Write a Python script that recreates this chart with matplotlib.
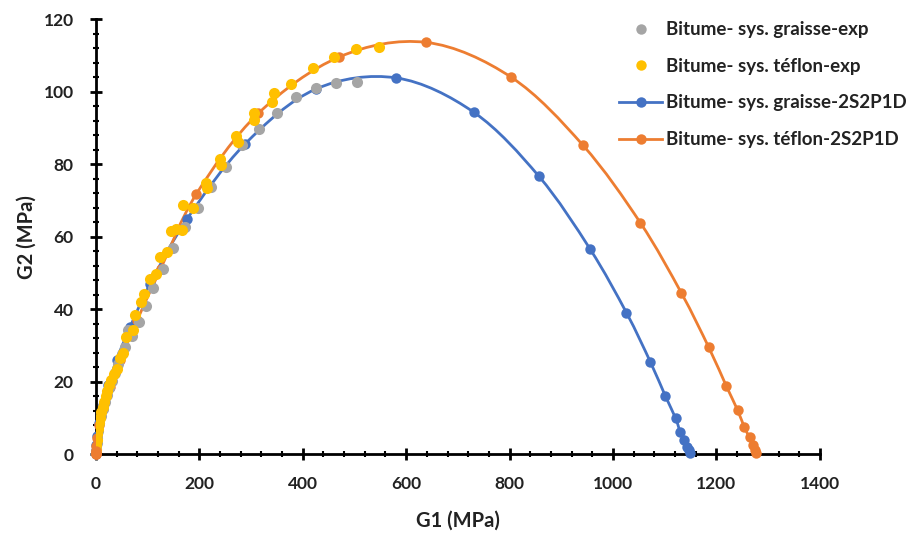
import numpy as np
import matplotlib
matplotlib.use("Agg")
import matplotlib.pyplot as plt
from matplotlib.path import Path
from matplotlib.patches import PathPatch
from matplotlib.lines import Line2D
from matplotlib.ticker import MultipleLocator

plt.rcParams["font.family"] = ["Lato", "DejaVu Sans"]

graisse_exp_g1 = [1, 2, 3, 5, 7, 10, 13, 17, 21, 26, 31, 37, 43, 50, 57, 62, 70, 84,
                  97, 110, 129, 150, 172, 198, 223, 252, 282, 316, 350, 387, 425, 464, 505]
graisse_exp_g2 = [1.5, 3, 4.5, 6.5, 8.5, 10.5, 12.5, 14.5, 16.3, 18.3, 20.2, 22.5, 25, 27.5, 29.5, 34.2, 32.5, 36.5,
                  41, 45.7, 51, 56.9, 62.7, 67.8, 73.6, 79.3, 85.2, 89.8, 94.2, 98.4, 101, 102.5, 102.7]

teflon_exp_g1 = [0.5, 1, 2, 3, 4, 6, 8, 10, 13, 16, 19, 22, 26, 30, 35, 41, 47, 52, 59, 71, 75, 88, 93,
                 105, 117, 124, 137, 145, 154, 166, 168, 187, 212, 214, 240, 242, 271, 275, 305, 305,
                 340, 344, 377, 419, 461, 503, 548]
teflon_exp_g2 = [1, 2.5, 4, 5.5, 7, 8.5, 10, 11.5, 13, 14.5, 16, 17.5, 19, 20.5, 22, 23.4, 26.5, 27.8, 32.2, 34.2, 38.3, 42, 44.3,
                 48.2, 49.8, 54.4, 55.8, 61.6, 62, 61.8, 68.8, 67.8, 74.8, 73.5, 81.4, 79.9, 87.7, 86.2, 94, 92.1,
                 97.2, 99.7, 102.2, 106.4, 109.6, 111.9, 112.2]

# 2S2P1D model points
graisse_mod_g1 = [0, 0.3, 1.0, 2.5, 6, 13, 24, 40, 66, 105, 176, 288, 425, 581, 731, 857, 956,
                  1026, 1072, 1101, 1121, 1130, 1138, 1143, 1146, 1148]
graisse_mod_g2 = [0, 1.0, 2.5, 5, 8.5, 13.5, 19, 26, 35, 47, 64.8, 85.5, 100.7, 103.8, 94.3, 76.6, 56.5,
                  39, 25.5, 16.1, 9.9, 6.1, 3.9, 2.0, 1.0, 0.2]

teflon_mod_g1 = [0, 0.1, 0.4, 1.2, 3, 7, 14, 27, 47, 80, 125, 194, 314, 471, 639, 803, 942,
                 1053, 1132, 1185, 1219, 1241, 1254, 1264, 1270, 1274, 1277]
teflon_mod_g2 = [0, 0.2, 0.9, 2.2, 4.5, 8, 12.5, 18.5, 26, 37, 51, 71.7, 94, 109.6, 113.6, 104, 85.2,
                 63.8, 44.5, 29.5, 18.8, 12.1, 7.4, 4.6, 2.5, 1.2, 0.2]

labels = ["Bitume- sys. graisse-exp", "Bitume- sys. téflon-exp",
          "Bitume- sys. graisse-2S2P1D", "Bitume- sys. téflon-2S2P1D"]

GREY, YELLOW, BLUE, ORANGE = "#A5A5A5", "#FFC000", "#4472C4", "#ED7D31"


def smooth_path(xs, ys):
    # Excel-like smoothed line: cubic Bezier through the points (Catmull-Rom handles)
    p = np.column_stack([xs, ys]).astype(float)
    verts = [p[0]]
    codes = [Path.MOVETO]
    n = len(p)
    for i in range(n - 1):
        p0 = p[i - 1] if i > 0 else p[i]
        p3 = p[i + 2] if i + 2 < n else p[i + 1]
        c1 = p[i] + (p[i + 1] - p0) / 6
        c2 = p[i + 1] - (p3 - p[i]) / 6
        verts += [c1, c2, p[i + 1]]
        codes += [Path.CURVE4] * 3
    return Path(verts, codes)


fig = plt.figure(figsize=(9.13, 5.33), dpi=100)
ax = fig.add_axes([0.105, 0.148, 0.793, 0.816])

ms = 7.5
for xs, ys, c in [(graisse_mod_g1, graisse_mod_g2, BLUE), (teflon_mod_g1, teflon_mod_g2, ORANGE)]:
    ax.add_patch(PathPatch(smooth_path(xs, ys), fill=False, edgecolor=c, lw=2, zorder=2))
    ax.plot(xs, ys, "o", color=c, ms=ms, mec="none", zorder=3, clip_on=False)

ax.plot(graisse_exp_g1, graisse_exp_g2, "o", color=GREY, ms=ms + 0.5, mec="none", zorder=4)
ax.plot(teflon_exp_g1, teflon_exp_g2, "o", color=YELLOW, ms=ms + 0.5, mec="none", zorder=5)
# the model points at the origin sit on top in the reference
ax.plot(teflon_mod_g1[:3], teflon_mod_g2[:3], "o", color=ORANGE, ms=ms, mec="none", zorder=6, clip_on=False)

ax.set_xlim(0, 1400)
ax.set_ylim(0, 120)
ax.xaxis.set_major_locator(MultipleLocator(200))
ax.xaxis.set_minor_locator(MultipleLocator(40))
ax.yaxis.set_major_locator(MultipleLocator(20))
ax.yaxis.set_minor_locator(MultipleLocator(4))

for s in ["top", "right"]:
    ax.spines[s].set_visible(False)
for s in ["left", "bottom"]:
    ax.spines[s].set_linewidth(2)
    ax.spines[s].set_color("black")
    ax.spines[s].set_zorder(1)

ax.tick_params(which="major", direction="inout", length=8, width=2, labelsize=12.5, colors="black")
ax.tick_params(which="minor", direction="inout", length=5, width=1.5)
ax.tick_params(axis="x", which="major", pad=11.5)
ax.tick_params(axis="y", which="major", pad=12)
for t in ax.get_xticklabels() + ax.get_yticklabels():
    t.set_fontweight("bold")
    t.set_color("#222222")

ax.set_xlabel("G1 (MPa)", fontsize=14.5, fontweight="bold", color="#222222", labelpad=14)
ax.set_ylabel("G2 (MPa)", fontsize=14.5, fontweight="bold", color="#222222", labelpad=5)

handles = [
    Line2D([], [], ls="none", marker="o", color=GREY, ms=ms, mec="none"),
    Line2D([], [], ls="none", marker="o", color=YELLOW, ms=ms, mec="none"),
    Line2D([], [], marker="o", color=BLUE, lw=2, ms=ms, mec="none"),
    Line2D([], [], marker="o", color=ORANGE, lw=2, ms=ms, mec="none"),
]
leg = fig.legend(handles, labels, loc="upper left", bbox_to_anchor=(0.668, 0.978),
                 frameon=False, prop={"size": 13.5, "weight": "bold"},
                 handlelength=2.3, handletextpad=0.2, labelspacing=1.05, borderpad=0)
for t in leg.get_texts():
    t.set_color("#222222")

fig.savefig("out.png", dpi=100)
